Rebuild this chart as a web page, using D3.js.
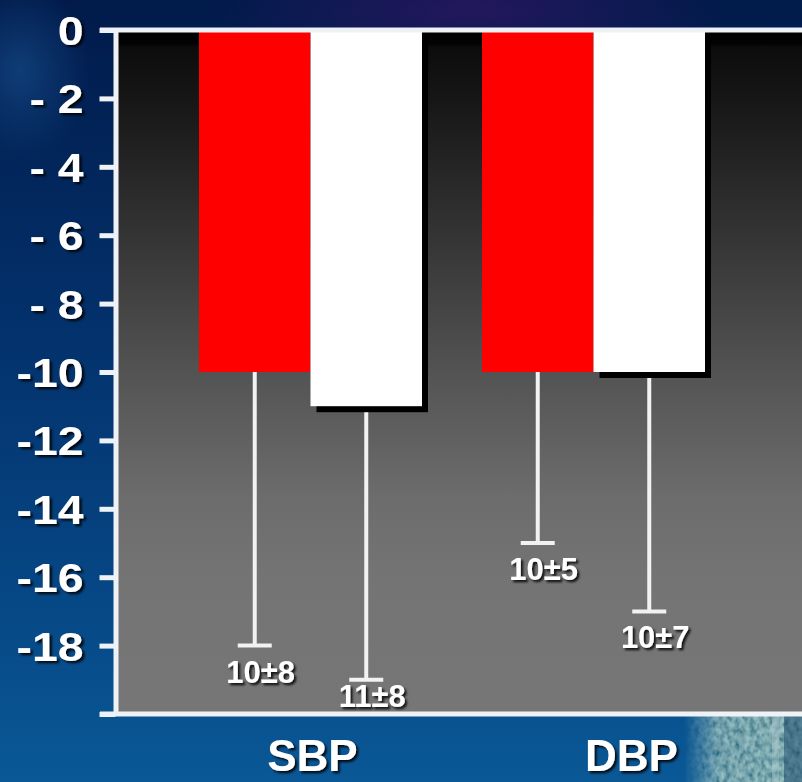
<!DOCTYPE html>
<html>
<head>
<meta charset="utf-8">
<script src="https://cdn.jsdelivr.net/npm/d3@7"></script>
<style>
  html, body { margin: 0; padding: 0; background: #03264f; overflow: hidden; }
  svg { display: block; }
  text { font-family: "Liberation Sans", Arial, Helvetica, sans-serif; font-weight: bold; fill: #ffffff; }
</style>
</head>
<body>
<svg id="chart" width="802" height="782"></svg>
<script>
// Mean change from baseline (mmHg) and SD for each group
const categories = ["SBP", "DBP"];
const seriesKeys = ["A", "B"];
const meanA = [-10, -10];
const sdA   = [8, 5];
const meanB = [-11, -10];
const sdB   = [8, 7];

// y axis
const yTickValues = [0, -2, -4, -6, -8, -10, -12, -14, -16, -18, -20];
const yTickLabels = ["0", "- 2", "- 4", "- 6", "- 8", "-10", "-12", "-14", "-16", "-18", ""];

const rows = categories.flatMap((c, i) => [
  { cat: c, key: "A", mean: meanA[i], sd: sdA[i] },
  { cat: c, key: "B", mean: meanB[i], sd: sdB[i] }
]);

const W = 802, H = 782;
const svg = d3.select("#chart");
const defs = svg.append("defs");

// ---- backdrop ----
const bg = defs.append("linearGradient").attr("id", "bgGrad")
  .attr("x1", 0).attr("y1", 0).attr("x2", 0).attr("y2", 1);
bg.append("stop").attr("offset", "0%").attr("stop-color", "#011a4a");
bg.append("stop").attr("offset", "40%").attr("stop-color", "#03306a");
bg.append("stop").attr("offset", "75%").attr("stop-color", "#064684");
bg.append("stop").attr("offset", "100%").attr("stop-color", "#0a5896");

const tint = defs.append("radialGradient").attr("id", "tintGrad")
  .attr("cx", 0.5).attr("cy", 0.5).attr("r", 0.5);
tint.append("stop").attr("offset", "0%").attr("stop-color", "#2a1660").attr("stop-opacity", 0.85);
tint.append("stop").attr("offset", "100%").attr("stop-color", "#2a1660").attr("stop-opacity", 0);

const glow = defs.append("radialGradient").attr("id", "glowGrad")
  .attr("cx", 0.5).attr("cy", 0.5).attr("r", 0.5);
glow.append("stop").attr("offset", "0%").attr("stop-color", "#1a5595").attr("stop-opacity", 0.55);
glow.append("stop").attr("offset", "100%").attr("stop-color", "#1a5595").attr("stop-opacity", 0);

svg.append("rect").attr("width", W).attr("height", H).attr("fill", "url(#bgGrad)");
svg.append("ellipse").attr("cx", 470).attr("cy", 10).attr("rx", 260).attr("ry", 60)
  .attr("fill", "url(#tintGrad)");
svg.append("ellipse").attr("cx", 20).attr("cy", 70).attr("rx", 70).attr("ry", 90)
  .attr("fill", "url(#glowGrad)");

// textured photo strip at the lower right corner
const photo = defs.append("filter").attr("id", "photoTex")
  .attr("x", 0).attr("y", 0).attr("width", 1).attr("height", 1);
photo.append("feTurbulence").attr("type", "fractalNoise")
  .attr("baseFrequency", "0.2 0.14").attr("numOctaves", 2).attr("seed", 7).attr("result", "noise");
photo.append("feColorMatrix").attr("in", "noise").attr("type", "matrix")
  .attr("values", "0.8 0 0 0 -0.1  0.9 0 0 0 0.04  0.7 0 0 0 0.1  0 0 0 0 1")
  .attr("result", "tex");
photo.append("feComposite").attr("in", "tex").attr("in2", "SourceGraphic").attr("operator", "in");

const fade = defs.append("linearGradient").attr("id", "photoFade")
  .attr("x1", 0).attr("y1", 0).attr("x2", 1).attr("y2", 0);
fade.append("stop").attr("offset", "0%").attr("stop-color", "#fff").attr("stop-opacity", 0);
fade.append("stop").attr("offset", "30%").attr("stop-color", "#fff").attr("stop-opacity", 0.75);
fade.append("stop").attr("offset", "100%").attr("stop-color", "#fff").attr("stop-opacity", 0.85);
defs.append("mask").attr("id", "photoMask")
  .append("rect").attr("x", 684).attr("y", 716).attr("width", 118).attr("height", 66)
  .attr("fill", "url(#photoFade)");
svg.append("rect").attr("x", 684).attr("y", 716).attr("width", 118).attr("height", 66)
  .attr("fill", "#fff").attr("filter", "url(#photoTex)").attr("mask", "url(#photoMask)");
// pale post and darker edge within the photo
svg.append("rect").attr("x", 772).attr("y", 716).attr("width", 7).attr("height", 66)
  .attr("fill", "#a8c4c8").attr("opacity", 0.5);
svg.append("rect").attr("x", 784).attr("y", 716).attr("width", 18).attr("height", 66)
  .attr("fill", "#1d4a6e").attr("opacity", 0.55);

// ---- filters ----
const txtShadow = defs.append("filter").attr("id", "txtShadow")
  .attr("x", "-20%").attr("y", "-20%").attr("width", "140%").attr("height", "140%");
txtShadow.append("feDropShadow").attr("dx", 2.2).attr("dy", 2.2).attr("stdDeviation", 1)
  .attr("flood-color", "#000").attr("flood-opacity", 0.85);

const softEdge = defs.append("filter").attr("id", "softEdge");
softEdge.append("feGaussianBlur").attr("stdDeviation", 0.5);

// ---- scales ----
const y = d3.scaleLinear().domain([0, -20]).range([30, 714]);
const x0 = d3.scaleBand().domain(categories).range([169, 735])
  .paddingInner(0.212).paddingOuter(0.106);
const x1 = d3.scaleBand().domain(seriesKeys).range([0, x0.bandwidth()]);
const fillOf = { A: "#ff0000", B: "#ffffff" };

const plotLeft = 118, plotRight = W;

// plot area: black at the top fading to grey
const plotGrad = defs.append("linearGradient").attr("id", "plotGrad")
  .attr("gradientUnits", "userSpaceOnUse")
  .attr("x1", 0).attr("y1", y(0)).attr("x2", 0).attr("y2", y(-20));
[["0%", "#000000"], ["2%", "#030303"], ["2.5%", "#0c0c0c"], ["12%", "#191919"],
 ["30%", "#343434"], ["50%", "#535353"], ["68%", "#6c6c6c"], ["80%", "#747474"], ["100%", "#767676"]]
  .forEach(([o, c]) => plotGrad.append("stop").attr("offset", o).attr("stop-color", c));

svg.append("rect")
  .attr("x", plotLeft).attr("y", y(0))
  .attr("width", plotRight - plotLeft).attr("height", y(-20) - y(0))
  .attr("fill", "url(#plotGrad)");

const g = svg.append("g");
const cx = d => x0(d.cat) + x1(d.key) + x1.bandwidth() / 2;

// error bars (downward only)
const capHalf = 17;
const err = g.selectAll("g.err").data(rows).join("g").attr("class", "err")
  .attr("stroke", "#f2f2f2").attr("stroke-width", 4);
err.append("line")
  .attr("x1", cx).attr("x2", cx)
  .attr("y1", d => y(d.mean)).attr("y2", d => y(d.mean - d.sd));
err.append("line")
  .attr("x1", d => cx(d) - capHalf).attr("x2", d => cx(d) + capHalf)
  .attr("y1", d => y(d.mean - d.sd)).attr("y2", d => y(d.mean - d.sd));

// drop shadows behind the white bars
g.selectAll("rect.shadow").data(rows.filter(d => d.key === "B")).join("rect")
  .attr("class", "shadow")
  .attr("x", d => x0(d.cat) + x1(d.key) + 6)
  .attr("y", d => y(0) + 6)
  .attr("width", x1.bandwidth())
  .attr("height", d => y(d.mean) - y(0))
  .attr("fill", "#000")
  .attr("filter", "url(#softEdge)");

// bars
g.selectAll("rect.bar").data(rows).join("rect")
  .attr("class", "bar")
  .attr("x", d => x0(d.cat) + x1(d.key))
  .attr("y", y(0))
  .attr("width", x1.bandwidth())
  .attr("height", d => y(d.mean) - y(0))
  .attr("fill", d => fillOf[d.key]);

// value labels under the error caps, kept above the bottom rule
const labelFloor = y(-20) - 7;
g.selectAll("text.val").data(rows).join("text")
  .attr("class", "val")
  .attr("x", d => cx(d) + 6)
  .attr("y", d => Math.min(y(d.mean - d.sd) + 37, labelFloor))
  .attr("text-anchor", "middle")
  .attr("font-size", 31)
  .attr("filter", "url(#txtShadow)")
  .text(d => `${Math.abs(d.mean)}±${d.sd}`);

// frame: top and bottom rules
const frameColor = "#eef2f6";
[0, -20].forEach(v => {
  svg.append("line")
    .attr("x1", 100).attr("x2", plotRight)
    .attr("y1", y(v)).attr("y2", y(v))
    .attr("stroke", frameColor).attr("stroke-width", 5);
});

// y axis
const yAxis = d3.axisLeft(y)
  .tickValues(yTickValues)
  .tickFormat((d, i) => yTickLabels[i])
  .tickSize(16).tickSizeOuter(0).tickPadding(16);
const ax = svg.append("g").attr("transform", "translate(115.5,0)").call(yAxis);
ax.select(".domain").attr("stroke", frameColor).attr("stroke-width", 5);
ax.selectAll(".tick line").attr("stroke", frameColor).attr("stroke-width", 5);
ax.selectAll(".tick text")
  .attr("fill", "#fff")
  .attr("font-size", 40)
  .attr("font-family", null)
  .attr("filter", "url(#txtShadow)")
  .attr("dy", "0.36em")
  .attr("transform", function () {
    const xx = +d3.select(this).attr("x");
    return `translate(${xx},0) scale(1.16,1) translate(${-xx},0)`;
  });
ax.attr("font-family", null).attr("font-size", null);

// category labels
const catLabelDx = { SBP: 2, DBP: 38 };
svg.selectAll("text.cat").data(categories).join("text")
  .attr("class", "cat")
  .attr("x", c => x0(c) + x0.bandwidth() / 2 + catLabelDx[c])
  .attr("y", 771)
  .attr("text-anchor", "middle")
  .attr("font-size", 44)
  .attr("filter", "url(#txtShadow)")
  .text(c => c);
</script>
</body>
</html>
